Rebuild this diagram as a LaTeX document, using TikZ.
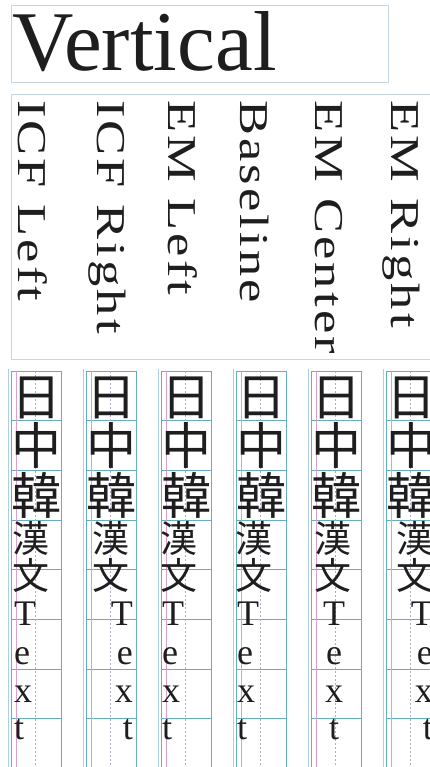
\documentclass[tikz,border=0pt]{standalone}
\usepackage{fontspec}
\setmainfont{Liberation Serif}
\newfontfamily\lblfont[LetterSpace=6]{Liberation Serif}
\newfontfamily\cjkfont{Noto Sans CJK JP}
\definecolor{frameblue}{RGB}{198,214,226}
\definecolor{colteal}{RGB}{100,175,190}
\definecolor{outblue}{RGB}{170,208,232}
\definecolor{pinkguide}{RGB}{218,160,208}
\definecolor{dashguide}{RGB}{176,170,196}
\definecolor{ink}{RGB}{30,30,30}
\tikzset{
  framebox/.style={draw=frameblue, line width=1pt},
  colline/.style={draw=colteal, line width=1pt},
  outline/.style={draw=outblue, line width=0.8pt},
  pinkline/.style={draw=pinkguide, line width=0.8pt},
  dashline/.style={draw=dashguide, line width=0.7pt, dash pattern=on 2pt off 2pt},
  titletext/.style={inner sep=0pt, text=ink, font=\fontsize{85}{85}\selectfont},
  lbl/.style={inner sep=0pt, text=ink, rotate=-90, xscale=1.28, anchor=base west,
              font=\lblfont\fontsize{41}{41}\selectfont},
  bigcjk/.style={inner sep=0pt, text=ink, text height=44pt, text depth=6pt,
                 font=\cjkfont\fontsize{50}{50}\selectfont},
  smallcjk/.style={inner sep=0pt, text=ink, text height=32.6pt, text depth=4.4pt,
                 font=\cjkfont\fontsize{37}{37}\selectfont},
  latin/.style={inner sep=0pt, text=ink, font=\fontsize{36}{36}\selectfont}
}
\begin{document}
\begin{tikzpicture}[x=1pt,y=-1pt]
\useasboundingbox (0,0) rectangle (430,767);
\clip (0,0) rectangle (430,767);
\fill[white] (0,0) rectangle (430,767);

% title box
\draw[framebox] (11,6) rectangle (388,83);
\node[titletext, anchor=base west] (title) at (12,71) {Vertical};

% label box
\draw[framebox] (11,95) rectangle (440,359);
\node[lbl] (lab1) at (18,100) {ICF Left};
\node[lbl] (lab2) at (97,100) {ICF Right};
\node[lbl] (lab3) at (168,100) {EM Left};
\node[lbl] (lab4) at (240,100) {Baseline};
\node[lbl] (lab5) at (315,100) {EM Center};
\node[lbl] (lab6) at (391,100) {EM Right};

% columns with grid
\foreach \x [count=\i] in {11,86,161,236,311,386} {
  \draw[outline] (\x-2.5,369) -- (\x-2.5,780);
  \draw[colline] (\x,371) rectangle (\x+50,780);
  \foreach \y in {420.7,470.4,520.1,569.8,619.5,669.2,718.9}
    \draw[colline] (\x,\y) -- (\x+50,\y);
  \draw[pinkline] (\x+5,371) -- (\x+5,780);
  \draw[dashline] (\x+24,371) -- (\x+24,780);
  \node[bigcjk] (c\i a) at (\x+25,396) {日};
  \node[bigcjk] (c\i b) at (\x+25,445.5) {中};
  \node[bigcjk] (c\i c) at (\x+25,495.2) {韓};
}

% column 1: ICF Left
\node[smallcjk, anchor=west] (c1d) at (12,538.5) {漢};
\node[smallcjk, anchor=west] (c1e) at (12,575.5) {文};
\node[latin, anchor=base west] (c1f) at (14,625) {T};
\node[latin, anchor=base west] (c1g) at (14,664) {e};
\node[latin, anchor=base west] (c1h) at (14,702) {x};
\node[latin, anchor=base west] (c1i) at (14,739) {t};

% column 2: ICF Right
\node[smallcjk, anchor=east] (c2d) at (130,538.5) {漢};
\node[smallcjk, anchor=east] (c2e) at (130,575.5) {文};
\node[latin, anchor=base east] (c2f) at (133,625) {T};
\node[latin, anchor=base east] (c2g) at (133,664) {e};
\node[latin, anchor=base east] (c2h) at (133,702) {x};
\node[latin, anchor=base east] (c2i) at (133,739) {t};

% column 3: EM Left
\node[smallcjk, anchor=west] (c3d) at (160.5,538.5) {漢};
\node[smallcjk, anchor=west] (c3e) at (160.5,575.5) {文};
\node[latin, anchor=base west] (c3f) at (162,625) {T};
\node[latin, anchor=base west] (c3g) at (162,664) {e};
\node[latin, anchor=base west] (c3h) at (162,702) {x};
\node[latin, anchor=base west] (c3i) at (162,739) {t};

% column 4: Baseline
\node[smallcjk, anchor=west] (c4d) at (235.5,538.5) {漢};
\node[smallcjk, anchor=west] (c4e) at (235.5,575.5) {文};
\node[latin, anchor=base west] (c4f) at (237,625) {T};
\node[latin, anchor=base west] (c4g) at (237,664) {e};
\node[latin, anchor=base west] (c4h) at (237,702) {x};
\node[latin, anchor=base west] (c4i) at (237,739) {t};

% column 5: EM Center
\node[smallcjk] (c5d) at (333,538.5) {漢};
\node[smallcjk] (c5e) at (333,575.5) {文};
\node[latin, anchor=base] (c5f) at (334,625) {T};
\node[latin, anchor=base] (c5g) at (334,664) {e};
\node[latin, anchor=base] (c5h) at (334,702) {x};
\node[latin, anchor=base] (c5i) at (334,739) {t};

% column 6: EM Right
\node[smallcjk, anchor=east] (c6d) at (434,538.5) {漢};
\node[smallcjk, anchor=east] (c6e) at (434,575.5) {文};
\node[latin, anchor=base east] (c6f) at (433,625) {T};
\node[latin, anchor=base east] (c6g) at (433,664) {e};
\node[latin, anchor=base east] (c6h) at (433,702) {x};
\node[latin, anchor=base east] (c6i) at (433,739) {t};
\end{tikzpicture}
\end{document}
